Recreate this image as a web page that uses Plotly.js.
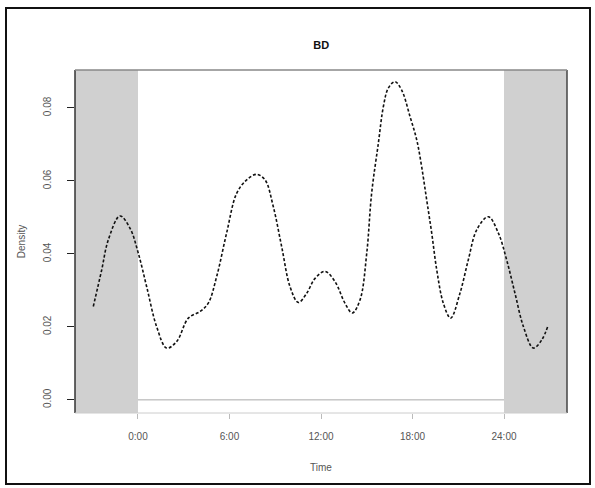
<!DOCTYPE html>
<html><head><meta charset="utf-8">
<script src="https://cdn.plot.ly/plotly-3.0.1.min.js"></script>
<style>
html,body{margin:0;padding:0;background:#fff;}
#wrap{position:relative;width:595px;height:488px;}
#frame{position:absolute;left:5px;top:7px;width:582px;height:474px;border:2px solid #111;pointer-events:none;}
#chart{position:absolute;left:0;top:0;width:595px;height:488px;}
</style></head>
<body>
<div id="wrap"><div id="chart"></div><div id="frame"></div></div>
<script>
// Time (hours) and density values
var timeHours = [-2.93,-2.38,-1.95,-1.18,-0.52,0.02,0.57,1.22,1.88,2.54,3.3,4.07,4.61,5.16,5.81,6.47,7.13,7.78,8.33,8.87,9.42,9.97,10.51,11.06,11.61,12.26,12.92,13.57,14.05,14.56,15.0,15.32,15.76,16.09,16.41,16.85,17.29,17.84,18.28,18.6,18.93,19.26,19.59,20.02,20.5,21.11,21.66,22.21,22.97,23.63,24.17,24.72,25.27,25.92,26.47,26.9];
var density = [0.0256,0.0356,0.0438,0.0504,0.047,0.0402,0.031,0.0201,0.0142,0.016,0.0224,0.0242,0.0265,0.0338,0.0457,0.0566,0.0603,0.0618,0.0603,0.053,0.042,0.031,0.0267,0.0292,0.0333,0.0352,0.0324,0.0265,0.0238,0.0274,0.0402,0.0566,0.0703,0.0804,0.0854,0.0872,0.0849,0.0776,0.0712,0.0639,0.0548,0.0457,0.0356,0.0265,0.0224,0.0292,0.0384,0.0466,0.0502,0.0457,0.0384,0.0292,0.0201,0.0142,0.0164,0.0205];
var xTickVals = [0,6,12,18,24];
var xTickText = ["0:00","6:00","12:00","18:00","24:00"];
var yTickVals = [0,0.02,0.04,0.06,0.08];
var yTickText = ["0.00","0.02","0.04","0.06","0.08"];
var xRange = [-4.13,28.13];
var yRange = [-0.0036,0.0904];

var traces = [
  {x:[0,24], y:[0,0], mode:'lines', line:{color:'#aaaaaa', width:1}, hoverinfo:'skip', showlegend:false},
  {x:timeHours, y:density, mode:'lines', line:{color:'#111', width:1.6, dash:'3px,2px', shape:'spline', smoothing:1}, showlegend:false}
];
var tickFont = {family:'Liberation Sans, Arial, sans-serif', size:10, color:'#555'};
var layout = {
  width:595, height:488,
  margin:{l:75, r:28, t:70, b:75},
  paper_bgcolor:'rgba(0,0,0,0)', plot_bgcolor:'#fff',
  title:{text:'<b>BD</b>', x:0.54, xanchor:'center', y:0.908, yanchor:'middle', font:{family:'Liberation Sans, Arial, sans-serif', size:11, color:'#111'}},
  xaxis:{range:xRange, tickvals:xTickVals, ticktext:xTickText, ticks:'outside', ticklen:5, tickcolor:'#bbb', tickfont:tickFont,
    ticklabelstandoff:9,
    showgrid:false, zeroline:false, showline:false,
    title:{text:'Time', font:{family:'Liberation Sans, Arial, sans-serif', size:10, color:'#555'}, standoff:22}},
  yaxis:{range:yRange, tickvals:yTickVals, ticktext:yTickText, ticks:'outside', ticklen:7, tickcolor:'#222', tickfont:tickFont, tickangle:-90,
    ticklabelstandoff:12,
    showgrid:false, zeroline:false, showline:false,
    title:{text:'Density', font:{family:'Liberation Sans, Arial, sans-serif', size:10, color:'#555'}, standoff:14}},
  shapes:[
    {type:'rect', xref:'x', yref:'paper', x0:xRange[0], x1:0, y0:0, y1:1, fillcolor:'#d0d0d0', line:{width:0}, layer:'below'},
    {type:'rect', xref:'x', yref:'paper', x0:24, x1:xRange[1], y0:0, y1:1, fillcolor:'#d0d0d0', line:{width:0}, layer:'below'},
    {type:'line', xref:'paper', yref:'paper', x0:0, x1:0, y0:0, y1:1, line:{color:'#333', width:1.5}},
    {type:'line', xref:'paper', yref:'paper', x0:1, x1:1, y0:0, y1:1, line:{color:'#444', width:1.5}},
    {type:'line', xref:'paper', yref:'paper', x0:0, x1:1, y0:1, y1:1, line:{color:'#888', width:1.5}},
    {type:'line', xref:'paper', yref:'paper', x0:0, x1:1, y0:0, y1:0, line:{color:'#ccc', width:1}}
  ]
};
Plotly.newPlot('chart', traces, layout, {staticPlot:true, displayModeBar:false});
</script>
</body></html>
